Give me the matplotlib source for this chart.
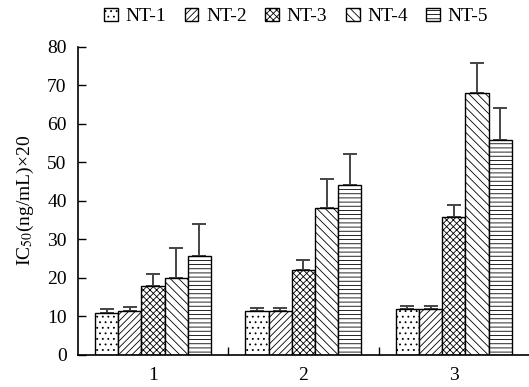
import matplotlib
matplotlib.use("Agg")
import matplotlib.pyplot as plt
import numpy as np

plt.rcParams['font.family'] = ['Liberation Serif', 'DejaVu Serif']
plt.rcParams['hatch.linewidth'] = 0.6
plt.rcParams['mathtext.fontset'] = 'stix'

groups = ['1', '2', '3']
series = ['NT-1', 'NT-2', 'NT-3', 'NT-4', 'NT-5']
values = [
    [10.9, 11.4, 17.8, 20.0, 25.7],   # group 1
    [11.4, 11.4, 22.1, 38.1, 44.2],   # group 2
    [11.9, 11.9, 35.9, 68.0, 55.9],   # group 3
]
errors = [
    [0.9, 1.0, 3.2, 7.8, 8.4],
    [0.9, 0.9, 2.6, 7.7, 7.9],
    [0.9, 0.9, 3.1, 7.8, 8.3],
]
hatches = ['...', '/////', 'xxxxx', '\\\\\\\\', '----']

vals = np.array(values).T
errs = np.array(errors).T

fig = plt.figure(figsize=(5.29, 3.87), dpi=100)
ax = fig.add_axes([0.147, 0.083, 0.853, 0.796])

x = np.arange(1, len(groups) + 1)
w = 0.154
for i, name in enumerate(series):
    pos = x + (i - 2) * w
    ax.bar(pos, vals[i], w, color='white', edgecolor='black', linewidth=1.0,
           hatch=hatches[i], label=name, zorder=2)
    ax.errorbar(pos, vals[i], yerr=[np.zeros_like(errs[i]), errs[i]],
                fmt='none', ecolor='#444444', elinewidth=1.4, capsize=5,
                capthick=1.4, zorder=1)

ax.set_xlim(0.5, 3.5)
ax.set_ylim(0, 80)
ax.set_yticks(np.arange(0, 81, 10))
ax.set_xticks(x)
ax.set_xticklabels(groups)
ax.set_xticks([1.5, 2.5], minor=True)
ax.tick_params(axis='x', which='major', length=0, labelsize=14, pad=9)
ax.tick_params(axis='x', which='minor', direction='in', length=6, width=1)
ax.tick_params(axis='y', direction='in', length=6, width=1, labelsize=14, pad=8)
for s in ['top', 'right']:
    ax.spines[s].set_visible(False)
for s in ['left', 'bottom']:
    ax.spines[s].set_linewidth(1.2)

ax.set_ylabel('IC$_{50}$(ng/mL)×20', fontsize=14, labelpad=8)

leg = fig.legend(loc='upper center', bbox_to_anchor=(0.56, 1.025), ncol=5,
                 frameon=False, fontsize=14, handlelength=0.7, handleheight=0.7,
                 handletextpad=0.4, columnspacing=0.95)

fig.savefig('out.png', dpi=100)
